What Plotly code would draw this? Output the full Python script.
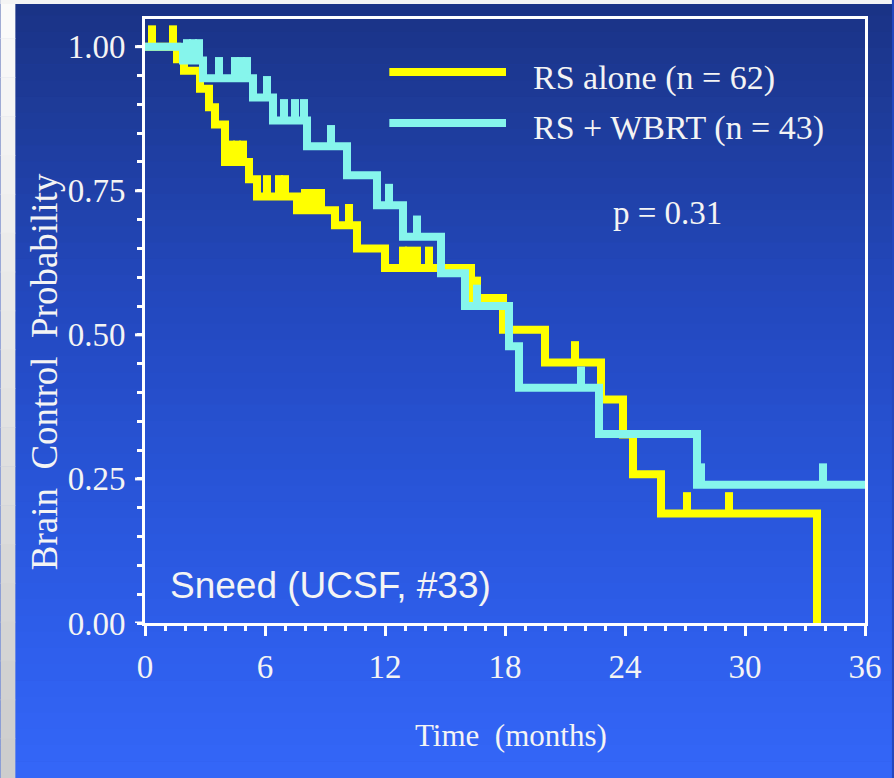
import numpy as np
import plotly.graph_objects as go

# RS alone (n = 62): step times (months) and brain control probability
rs_t = [0, 1.6, 1.95, 2.75, 3.2, 3.5, 4.0, 5.2, 5.6, 7.6, 9.5, 10.6, 12.0,
        16.3, 17.9, 20.0, 22.8, 23.9, 24.4, 25.8, 33.6]
rs_s = [1.0, 0.978, 0.958, 0.927, 0.895, 0.865, 0.80, 0.77, 0.74, 0.716, 0.69,
        0.65, 0.616, 0.564, 0.509, 0.452, 0.388, 0.327, 0.258, 0.19, 0.0]
rs_cens = [0.35, 1.4, 4.3, 4.6, 4.9, 6.1, 6.7, 7.0, 8.0, 8.4, 8.8, 10.2,
           12.9, 13.2, 13.6, 14.2, 16.6, 21.5, 27.1, 29.2]

# RS + WBRT (n = 43)
wb_t = [0, 1.9, 2.9, 5.4, 6.4, 8.1, 10.1, 11.6, 12.9, 14.8, 16.0, 18.2,
        18.7, 22.7, 27.6, 36.3]
wb_s = [1.0, 0.976, 0.945, 0.912, 0.872, 0.827, 0.777, 0.725, 0.67, 0.607,
        0.55, 0.48, 0.408, 0.328, 0.24, 0.24]
wb_cens = [2.1, 2.4, 2.7, 3.7, 4.5, 4.8, 5.1, 6.1, 6.95, 7.5, 7.95, 9.3,
           12.2, 13.6, 16.6, 21.8, 27.8, 33.9]

x_ticks = [0, 6, 12, 18, 24, 30, 36]
y_ticks = [0, 0.25, 0.5, 0.75, 1.0]
y_labels = ["0.00", "0.25", "0.50", "0.75", "1.00"]
y_all = [round(0.05 * i, 2) for i in range(21)]
y_all_text = [y_labels[y_ticks.index(v)] if v in y_ticks else "" for v in y_all]

YELLOW = "#ffff00"
CYAN = "#86f5ec"
WHITE = "#f4f4f4"
SERIF = "Liberation Serif, Times New Roman, serif"
SANS = "Liberation Sans, Arial, sans-serif"
CENSOR_H = 0.037

W, H = 894, 778
ML, MR, MT, MB = 145, 27, 19, 155
PW, PH = W - ML - MR, H - MT - MB


def px_x(px):
    return (px - ML) / PW


def px_y(py):
    return (H - MB - py) / PH


def level_at(times, levels, when):
    idx = np.searchsorted(times, when, side="right") - 1
    return [levels[i] for i in idx]


fig = go.Figure()

for t, s, cens, col in [(rs_t, rs_s, rs_cens, YELLOW), (wb_t, wb_s, wb_cens, CYAN)]:
    fig.add_trace(go.Scatter(
        x=t, y=s, mode="lines", line=dict(color=col, width=8, shape="hv"),
        hoverinfo="skip"))
    # censored observations: short vertical ticks above the curve
    fig.add_trace(go.Scatter(
        x=cens, y=level_at(t, s, cens), mode="markers",
        marker=dict(size=1, color=col),
        error_y=dict(type="data", symmetric=False, array=[CENSOR_H] * len(cens),
                     arrayminus=[0] * len(cens), width=0, thickness=8, color=col),
        hoverinfo="skip"))

# background gradient (dark navy at top to bright blue at bottom)
stops = [(0, (26, 50, 132)), (120, (30, 60, 155)), (300, (35, 72, 190)),
         (480, (40, 84, 215)), (640, (46, 94, 235)), (778, (52, 102, 248))]
shapes = []
n_band = 48
for i in range(n_band):
    y0 = H * i / n_band
    y1 = H * (i + 1) / n_band
    ym = (y0 + y1) / 2
    for (a, ca), (b, cb) in zip(stops[:-1], stops[1:]):
        if a <= ym <= b:
            f = (ym - a) / (b - a)
            c = tuple(int(round(ca[k] + f * (cb[k] - ca[k]))) for k in range(3))
            break
    shapes.append(dict(type="rect", xref="paper", yref="paper", layer="below",
                       x0=px_x(0), x1=px_x(W), y0=px_y(y1), y1=px_y(y0) + 0.001,
                       line=dict(width=0), fillcolor="rgb(%d,%d,%d)" % c))

# light grey slide edge at the left and top
for i in range(20):
    y0 = H * i / 20
    y1 = H * (i + 1) / 20
    g = int(250 - 45 * i / 19)
    shapes.append(dict(type="rect", xref="paper", yref="paper", layer="below",
                       x0=px_x(0), x1=px_x(15), y0=px_y(y1), y1=px_y(y0) + 0.001,
                       line=dict(width=0), fillcolor="rgb(%d,%d,%d)" % (g, g, g)))
shapes.append(dict(type="rect", xref="paper", yref="paper", layer="below",
                   x0=px_x(0), x1=px_x(W), y0=px_y(4), y1=px_y(0),
                   line=dict(width=0), fillcolor="#f4f4f4"))

# longer major ticks on the y axis (minor ticks come from the axis itself)
for v in y_ticks:
    shapes.append(dict(type="line", xref="paper", yref="y",
                       x0=px_x(135), x1=0, y0=v, y1=v,
                       line=dict(color="white", width=3)))

# legend line samples
for py, col in [(72, YELLOW), (123, CYAN)]:
    shapes.append(dict(type="line", xref="paper", yref="paper",
                       x0=px_x(390), x1=px_x(507), y0=px_y(py), y1=px_y(py),
                       line=dict(color=col, width=8)))

annotations = [
    dict(text="RS alone (n = 62)", x=px_x(532), y=px_y(78), xanchor="left",
         yanchor="middle", font=dict(family=SERIF, size=34, color=WHITE)),
    dict(text="RS + WBRT (n = 43)", x=px_x(532), y=px_y(128), xanchor="left",
         yanchor="middle", font=dict(family=SERIF, size=34, color=WHITE)),
    dict(text="p = 0.31", x=px_x(669), y=px_y(213), xanchor="center",
         yanchor="middle", font=dict(family=SERIF, size=33, color=WHITE)),
    dict(text="Sneed (UCSF, #33)", x=px_x(168), y=px_y(585), xanchor="left",
         yanchor="middle", font=dict(family=SANS, size=37, color=WHITE)),
    dict(text="Brain\u00a0\u00a0Control\u00a0\u00a0Probability", x=px_x(44),
         y=px_y(372), xanchor="center", yanchor="middle", textangle=-90,
         font=dict(family=SERIF, size=37, color=WHITE)),
    dict(text="Time\u00a0\u00a0(months)", x=px_x(512), y=px_y(735),
         xanchor="center", yanchor="middle",
         font=dict(family=SERIF, size=31, color=WHITE)),
]
for a in annotations:
    a.update(xref="paper", yref="paper", showarrow=False)

fig.update_layout(
    width=W, height=H,
    margin=dict(l=ML, r=MR, t=MT, b=MB),
    paper_bgcolor="rgb(36,72,190)",
    plot_bgcolor="rgba(0,0,0,0)",
    showlegend=False,
    shapes=shapes,
    annotations=annotations,
    xaxis=dict(
        range=[0, 36], tickmode="array", tickvals=x_ticks,
        ticks="outside", ticklen=10, tickwidth=3, tickcolor="white",
        showline=True, linecolor="white", linewidth=3, mirror=True,
        showgrid=False, zeroline=False, ticklabelstandoff=2,
        tickfont=dict(family=SERIF, size=33, color=WHITE),
        minor=dict(dtick=1, tick0=0, ticks="outside", ticklen=5, tickwidth=3,
                   tickcolor="white", showgrid=False),
    ),
    yaxis=dict(
        range=[0, 1.048], tickmode="array", tickvals=y_all, ticktext=y_all_text,
        ticks="outside", ticklen=5, tickwidth=3, tickcolor="white",
        showline=True, linecolor="white", linewidth=3, mirror=True,
        showgrid=False, zeroline=False, ticklabelstandoff=5,
        tickfont=dict(family=SERIF, size=33, color=WHITE),
    ),
)

fig.write_html("out.html", config={"displayModeBar": False},
               post_script="document.body.style.margin='0';")
